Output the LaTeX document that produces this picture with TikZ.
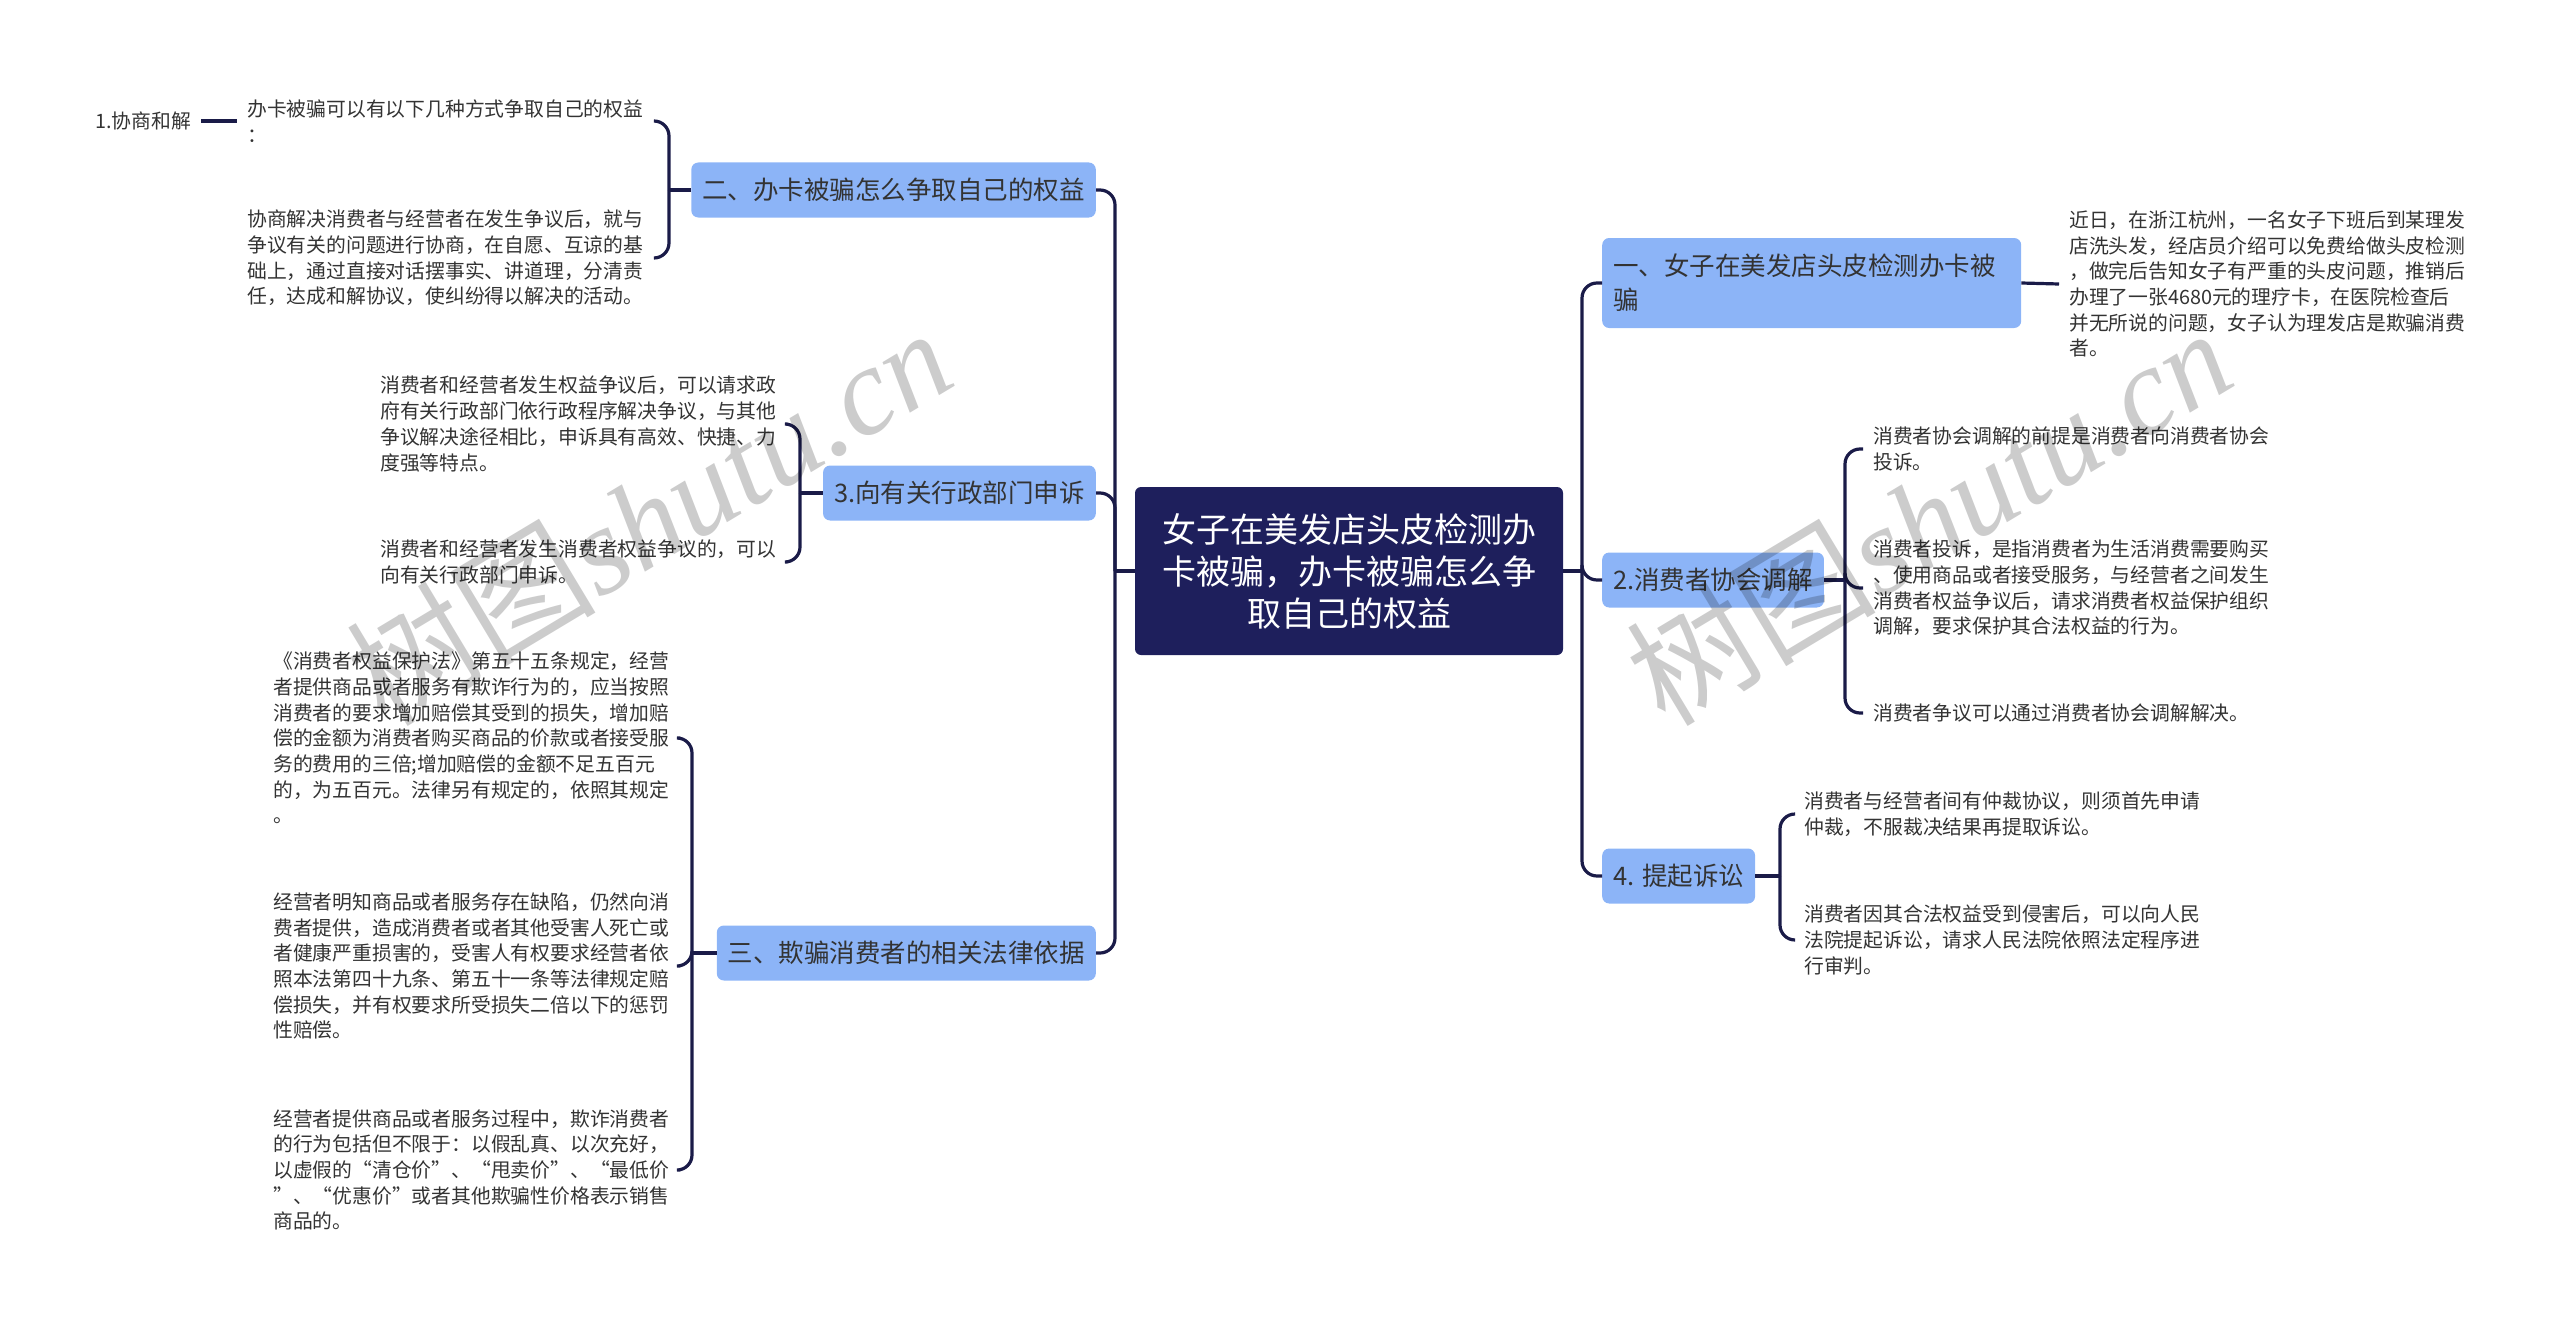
\documentclass[tikz,border=0pt]{standalone}
\usepackage{fontspec}
\setmainfont{Noto Sans CJK SC}
\newfontfamily\wmfont{Liberation Serif}
\usetikzlibrary{calc}
\definecolor{boxblue}{HTML}{8CB4F7}
\definecolor{navy}{HTML}{1E1F5C}
\definecolor{linec}{HTML}{1A1B48}
\definecolor{txt}{HTML}{333333}
\tikzset{
  conn/.style={draw=linec, line width=3.2pt},
  brk/.style={conn, rounded corners=15pt},
  topic/.style={fill=boxblue, rounded corners=7pt, inner xsep=11pt, inner ysep=0pt, minimum height=55pt, text=txt, font=\fontsize{25.5}{34}\selectfont},
  central/.style={fill=navy, rounded corners=6pt, minimum width=428pt, minimum height=168pt, text=white, align=center, font=\fontsize{34}{42}\selectfont},
  leaf/.style={inner xsep=10pt, inner ysep=0pt, text width=397pt, align=left, text=txt, font=\fontsize{19.8}{25.7}\selectfont},
  leafplain/.style={inner xsep=10pt, inner ysep=0pt, text=txt, font=\fontsize{19.8}{25.7}\selectfont},
  wm/.style={text=black, opacity=0.2, rotate=31, inner sep=0pt, font=\fontsize{125}{125}\selectfont}
}
\begin{document}
\begin{tikzpicture}[x=1pt, y=-1pt]
\useasboundingbox (0,0) rectangle (2560,1327);

% central
\node[central] (C) at (1349,571) {女子在美发店头皮检测办\\卡被骗，办卡被骗怎么争\\取自己的权益};

% main topics
\node[topic, anchor=east] (L1) at (1096,190) {二、办卡被骗怎么争取自己的权益};
\node[topic, anchor=east] (L2) at (1096,493) {3.向有关行政部门申诉};
\node[topic, anchor=east] (L3) at (1096,953) {三、欺骗消费者的相关法律依据};
\node[topic, anchor=west, text width=397pt, align=left, minimum height=90pt] (R1) at (1602,283) {一、女子在美发店头皮检测办卡被\\骗};
\node[topic, anchor=west] (R2) at (1602,580) {2.消费者协会调解};
\node[topic, anchor=west] (R3) at (1602,876) {4. 提起诉讼};

% spines
\coordinate (jl) at (1115,571);
\coordinate (jr) at (1582,571);
\draw[conn] (C.west) -- (jl);
\draw[conn] (C.east) -- (jr);
\foreach \n in {L1,L2,L3} \draw[brk] (jl) |- (\n.east);
\foreach \n in {R1,R2,R3} \draw[brk] (jr) |- (\n.west);

% L1 children
\node[leaf, anchor=west] (a1) at (237,121) {办卡被骗可以有以下几种方式争取自己的权益\\：};
\node[leaf, anchor=west] (a2) at (237,258) {协商解决消费者与经营者在发生争议后，就与\\争议有关的问题进行协商，在自愿、互谅的基\\础上，通过直接对话摆事实、讲道理，分清责\\任，达成和解协议，使纠纷得以解决的活动。};
\node[leafplain, anchor=east] (a0) at (201,121) {1.协商和解};
\draw[conn] (a0.east) -- (a1.west);
\coordinate (j1) at (669,190);
\draw[conn] (L1.west) -- (j1);
\foreach \n in {a1,a2} \draw[brk] (j1) |- (\n.east);

% L2 children
\node[leaf, anchor=west] (b1) at (370,424) {消费者和经营者发生权益争议后，可以请求政\\府有关行政部门依行政程序解决争议，与其他\\争议解决途径相比，申诉具有高效、快捷、力\\度强等特点。};
\node[leaf, anchor=west] (b2) at (370,562) {消费者和经营者发生消费者权益争议的，可以\\向有关行政部门申诉。};
\coordinate (j2) at (800,493);
\draw[conn] (L2.west) -- (j2);
\foreach \n in {b1,b2} \draw[brk] (j2) |- (\n.east);

% L3 children
\node[leaf, anchor=west] (d1) at (263,738) {《消费者权益保护法》第五十五条规定，经营\\者提供商品或者服务有欺诈行为的，应当按照\\消费者的要求增加赔偿其受到的损失，增加赔\\偿的金额为消费者购买商品的价款或者接受服\\务的费用的三倍;增加赔偿的金额不足五百元\\的，为五百元。法律另有规定的，依照其规定\\。};
\node[leaf, anchor=west] (d2) at (263,966) {经营者明知商品或者服务存在缺陷，仍然向消\\费者提供，造成消费者或者其他受害人死亡或\\者健康严重损害的，受害人有权要求经营者依\\照本法第四十九条、第五十一条等法律规定赔\\偿损失，并有权要求所受损失二倍以下的惩罚\\性赔偿。};
\node[leaf, anchor=west] (d3) at (263,1170) {经营者提供商品或者服务过程中，欺诈消费者\\的行为包括但不限于：以假乱真、以次充好，\\以虚假的“清仓价”、“甩卖价”、“最低价\\”、“优惠价”或者其他欺骗性价格表示销售\\商品的。};
\coordinate (j3) at (692,953);
\draw[conn] (L3.west) -- (j3);
\foreach \n in {d1,d2,d3} \draw[brk] (j3) |- (\n.east);

% R1 child
\node[leaf, anchor=west] (r1) at (2059,284) {近日，在浙江杭州，一名女子下班后到某理发\\店洗头发，经店员介绍可以免费给做头皮检测\\，做完后告知女子有严重的头皮问题，推销后\\办理了一张4680元的理疗卡，在医院检查后\\并无所说的问题，女子认为理发店是欺骗消费\\者。};
\draw[conn] (R1.east) -- (r1.west);

% R2 children
\node[leaf, anchor=west] (e1) at (1863,449) {消费者协会调解的前提是消费者向消费者协会\\投诉。};
\node[leaf, anchor=west] (e2) at (1863,588) {消费者投诉，是指消费者为生活消费需要购买\\、使用商品或者接受服务，与经营者之间发生\\消费者权益争议后，请求消费者权益保护组织\\调解，要求保护其合法权益的行为。};
\node[leaf, anchor=west] (e3) at (1863,713) {消费者争议可以通过消费者协会调解解决。};
\coordinate (j5) at (1845,580);
\draw[conn] (R2.east) -- (j5);
\foreach \n in {e1,e2,e3} \draw[brk] (j5) |- (\n.west);

% R3 children
\node[leaf, anchor=west] (f1) at (1794,814) {消费者与经营者间有仲裁协议，则须首先申请\\仲裁，不服裁决结果再提取诉讼。};
\node[leaf, anchor=west] (f2) at (1794,940) {消费者因其合法权益受到侵害后，可以向人民\\法院提起诉讼，请求人民法院依照法定程序进\\行审判。};
\coordinate (j6) at (1780,876);
\draw[conn] (R3.east) -- (j6);
\foreach \n in {f1,f2} \draw[brk] (j6) |- (\n.west);

% watermarks
\node[wm] (w1) at (648,515) {树图{\wmfont\itshape shutu.cn}};
\node[wm] (w2) at (1928,515) {树图{\wmfont\itshape shutu.cn}};
\end{tikzpicture}
\end{document}
